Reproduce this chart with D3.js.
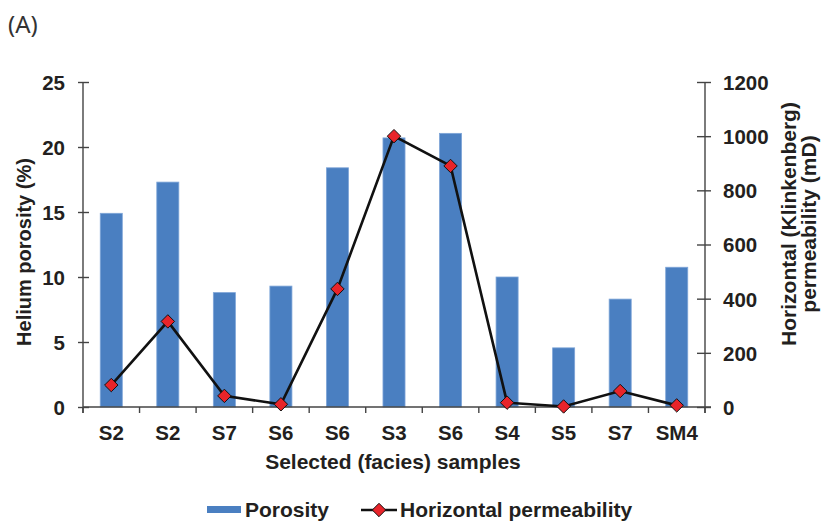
<!DOCTYPE html>
<html>
<head>
<meta charset="utf-8">
<script src="https://cdn.jsdelivr.net/npm/d3@7"></script>
<style>
  body { margin: 0; background: #fff; }
  svg text { font-family: "Liberation Sans", Arial, sans-serif; font-weight: bold; fill: #231f20; }
</style>
</head>
<body>
<svg id="chart" width="821" height="522"></svg>
<script>
const samples = ['S2', 'S2', 'S7', 'S6', 'S6', 'S3', 'S6', 'S4', 'S5', 'S7', 'SM4'];
const porosity = [14.9, 17.3, 8.8, 9.3, 18.4, 20.7, 21.05, 10.0, 4.55, 8.3, 10.75];
const permeability = [81, 316, 41, 10, 436, 1000, 890, 16, 2, 59, 6];
const porosityTicks = [0, 5, 10, 15, 20, 25];
const permTicks = [0, 200, 400, 600, 800, 1000, 1200];

const svg = d3.select('#chart');
const plotLeft = 83, plotRight = 705, plotTop = 82, plotBottom = 407;
const barColor = '#4a7fc1';
const tickFont = '20.5px';
const titleFont = '21px';

const x = d3.scaleBand().domain(d3.range(samples.length)).range([plotLeft, plotRight]).padding(0);
const yL = d3.scaleLinear().domain([0, 25]).range([plotBottom, plotTop]);
const yR = d3.scaleLinear().domain([0, 1200]).range([plotBottom, plotTop]);

// panel tag
svg.append('text').attr('x', 8).attr('y', 33)
  .style('font-family', '"Noto Sans", "Open Sans", sans-serif')
  .style('font-weight', 'normal').style('font-size', '24px').style('fill', '#333')
  .text('(A)');

// bars
const barW = x.bandwidth() * 0.39;
svg.selectAll('.bar').data(porosity).enter().append('rect')
  .attr('class', 'bar')
  .attr('x', (d, i) => x(i) + x.bandwidth() / 2 - barW / 2)
  .attr('y', d => yL(d))
  .attr('width', barW)
  .attr('height', d => yL(0) - yL(d))
  .style('fill', barColor)
  .style('stroke', '#7ea5d8')
  .style('stroke-width', 0.8);

// left axis
const gL = svg.append('g').attr('transform', `translate(${plotLeft},0)`)
  .call(d3.axisLeft(yL).tickValues(porosityTicks).tickSize(5).tickPadding(13));
gL.select('.domain').remove();
gL.selectAll('.tick line').attr('x1', 6).attr('x2', -5).style('stroke', '#444').style('stroke-width', 1.4);
gL.selectAll('.tick text').style('font-size', tickFont).style('font-family', '"Liberation Sans", Arial, sans-serif').attr('dy', '0.36em');
svg.append('line').attr('x1', plotLeft).attr('x2', plotLeft).attr('y1', plotTop).attr('y2', plotBottom + 6)
  .style('stroke', '#444').style('stroke-width', 1.4);

// right axis
const gR = svg.append('g').attr('transform', `translate(${plotRight},0)`)
  .call(d3.axisRight(yR).tickValues(permTicks).tickFormat(d3.format('d')).tickSize(6).tickPadding(12));
gR.select('.domain').remove();
gR.selectAll('.tick line').attr('x1', -8).attr('x2', 6).style('stroke', '#444').style('stroke-width', 1.4);
gR.selectAll('.tick text').style('font-size', tickFont).style('font-family', '"Liberation Sans", Arial, sans-serif').attr('dy', '0.36em');
svg.append('line').attr('x1', plotRight).attr('x2', plotRight).attr('y1', plotTop).attr('y2', plotBottom + 6)
  .style('stroke', '#444').style('stroke-width', 1.4);

// x axis
svg.append('line').attr('x1', plotLeft).attr('x2', plotRight + 6).attr('y1', plotBottom).attr('y2', plotBottom)
  .style('stroke', '#444').style('stroke-width', 1.4);
const bounds = d3.range(samples.length + 1).map(i => i < samples.length ? x(i) : plotRight);
svg.selectAll('.xtick').data(bounds).enter().append('line')
  .attr('x1', d => d).attr('x2', d => d).attr('y1', plotBottom).attr('y2', plotBottom + 6)
  .style('stroke', '#444').style('stroke-width', 1.4);
svg.selectAll('.xlab').data(samples).enter().append('text')
  .attr('x', (d, i) => x(i) + x.bandwidth() / 2).attr('y', 440)
  .attr('text-anchor', 'middle').style('font-size', tickFont)
  .text(d => d);

// permeability line
const line = d3.line().x((d, i) => x(i) + x.bandwidth() / 2).y(d => yR(d));
svg.append('path').datum(permeability).attr('d', line)
  .style('fill', 'none').style('stroke', '#111').style('stroke-width', 2.6);
const diamond = d3.symbol().type(d3.symbolDiamond2).size(115);
svg.selectAll('.pt').data(permeability).enter().append('path')
  .attr('transform', (d, i) => `translate(${x(i) + x.bandwidth() / 2},${yR(d)})`)
  .attr('d', diamond)
  .style('fill', '#e8242a').style('stroke', '#111').style('stroke-width', 1);

// axis titles
svg.append('text').attr('transform', 'translate(31,252) rotate(-90)')
  .attr('text-anchor', 'middle').style('font-size', '20px').text('Helium porosity (%)');
svg.append('text').attr('transform', 'translate(796,224) rotate(-90)')
  .attr('text-anchor', 'middle').style('font-size', titleFont).text('Horizontal (Klinkenberg)');
svg.append('text').attr('transform', 'translate(816,224) rotate(-90)')
  .attr('text-anchor', 'middle').style('font-size', titleFont).text('permeability (mD)');
svg.append('text').attr('x', 393).attr('y', 469)
  .attr('text-anchor', 'middle').style('font-size', titleFont).text('Selected (facies) samples');

// legend
const leg = svg.append('g');
leg.append('rect').attr('x', 207).attr('y', 506).attr('width', 34).attr('height', 7).style('fill', barColor);
leg.append('text').attr('x', 245).attr('y', 517).style('font-size', titleFont).text('Porosity');
leg.append('line').attr('x1', 361).attr('x2', 397).attr('y1', 510).attr('y2', 510)
  .style('stroke', '#111').style('stroke-width', 2.4);
leg.append('path').attr('transform', 'translate(379,510)').attr('d', diamond)
  .style('fill', '#e8242a').style('stroke', '#111').style('stroke-width', 1);
leg.append('text').attr('x', 400).attr('y', 517).style('font-size', titleFont).text('Horizontal permeability');
</script>
</body>
</html>
